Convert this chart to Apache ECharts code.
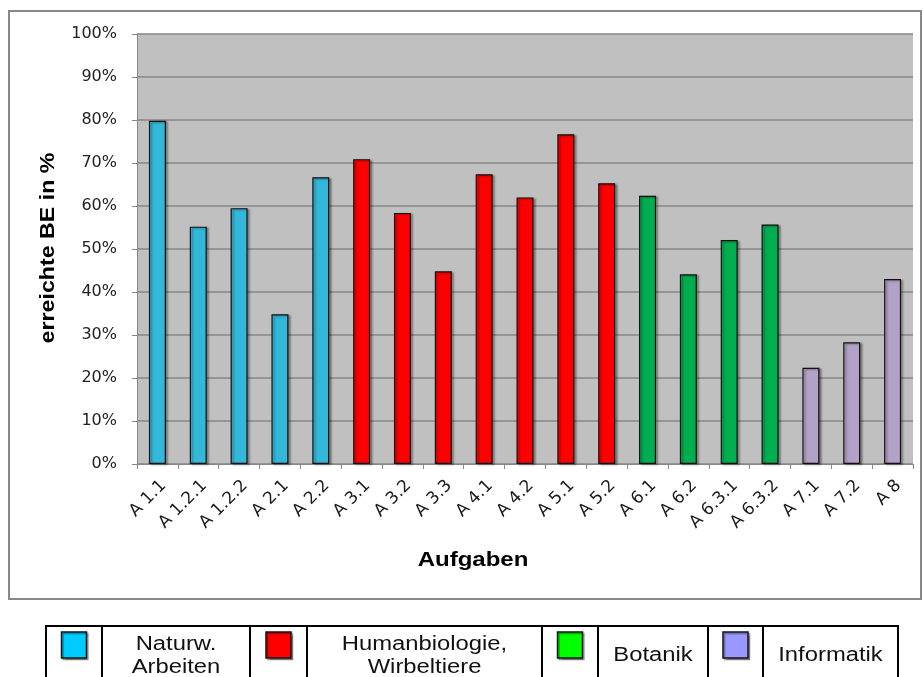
<!DOCTYPE html>
<html>
<head>
<meta charset="utf-8">
<script src="https://cdn.jsdelivr.net/npm/echarts@6/dist/echarts.min.js"></script>
<style>
  html, body { margin: 0; padding: 0; background: #ffffff; }
  #chart { width: 923px; height: 677px; }
</style>
</head>
<body>
<div id="chart"></div>
<script>
// Task categories along the x axis
const categories = ['A 1.1', 'A 1.2.1', 'A 1.2.2', 'A 2.1', 'A 2.2', 'A 3.1', 'A 3.2', 'A 3.3',
  'A 4.1', 'A 4.2', 'A 5.1', 'A 5.2', 'A 6.1', 'A 6.2', 'A 6.3.1', 'A 6.3.2', 'A 7.1', 'A 7.2', 'A 8'];

// Achieved share of points (BE) per task, in percent
const values = [79.8, 55.2, 59.5, 34.8, 66.7, 70.9, 58.4, 44.8, 67.4, 62.0,
  76.7, 65.3, 62.4, 44.1, 52.1, 55.7, 22.4, 28.3, 43.0];

// Subject area of each task (index into the group arrays below)
const groupOf = [0, 0, 0, 0, 0, 1, 1, 1, 1, 1, 1, 1, 2, 2, 2, 2, 3, 3, 3];

// Subject areas, as written in the key table (one entry per line)
const groupNames = [['Naturw.', 'Arbeiten'], ['Humanbiologie,', 'Wirbeltiere'], ['Botanik'], ['Informatik']];

// Bar fill per subject area and the swatch fill used in the key table
const barColors = ['#33B8D9', '#FF0000', '#00AE50', '#B3A2C7'];
const swatchColors = ['#00CCFF', '#FF0000', '#00FF00', '#9999FF'];

// Y axis scale
const yMin = 0, yMax = 100, yStep = 10;

const chart = echarts.init(document.getElementById('chart'), null, { renderer: 'canvas' });

// Key table below the chart: alternating swatch cells and text cells
const colEdges = [46, 102, 250, 307, 542, 598, 708, 763, 898];
const tableTop = 626, tableH = 70;
const legendGraphics = [];
legendGraphics.push({
  type: 'rect', shape: { x: colEdges[0], y: tableTop, width: colEdges[8] - colEdges[0], height: tableH },
  style: { fill: '#ffffff', stroke: '#000000', lineWidth: 2 }, z: 10
});
for (let i = 1; i < colEdges.length - 1; i++) {
  legendGraphics.push({
    type: 'line', shape: { x1: colEdges[i], y1: tableTop, x2: colEdges[i], y2: tableTop + tableH },
    style: { stroke: '#000000', lineWidth: 2 }, z: 11
  });
}
groupNames.forEach((lines, g) => {
  const sx0 = colEdges[g * 2], sx1 = colEdges[g * 2 + 1], tx1 = colEdges[g * 2 + 2];
  const swW = 25, swH = 26;
  legendGraphics.push({
    type: 'rect',
    shape: { x: (sx0 + sx1) / 2 - swW / 2, y: 632, width: swW, height: swH },
    style: { fill: swatchColors[g], stroke: '#111111', lineWidth: 1.5,
      shadowColor: 'rgba(0,0,0,0.35)', shadowOffsetX: 1.5, shadowOffsetY: 1.5, shadowBlur: 1 },
    z: 12
  });
  const cx = (sx1 + tx1) / 2;
  const ys = lines.length === 2 ? [644, 667] : [655];
  lines.forEach((t, k) => {
    legendGraphics.push({
      type: 'text', x: cx, y: ys[k], scaleX: 1.19, scaleY: 1,
      style: { text: t, fill: '#111111', font: '20px "Liberation Sans", Arial, sans-serif',
        textAlign: 'center', textVerticalAlign: 'middle' },
      z: 12
    });
  });
});

chart.setOption({
  animation: false,
  backgroundColor: '#ffffff',
  grid: {
    left: 137, right: 10, top: 34, bottom: 213,
    show: true, backgroundColor: '#C0C0C0', borderWidth: 0
  },
  xAxis: {
    type: 'category',
    data: categories,
    boundaryGap: true,
    axisLine: { show: true, lineStyle: { color: '#888888', width: 1 } },
    axisTick: { show: true, alignWithLabel: false, length: 5, lineStyle: { color: '#888888' } },
    axisLabel: {
      interval: 0, rotate: 45, margin: 13, verticalAlign: 'top',
      fontFamily: '"DejaVu Sans", sans-serif', fontSize: 17, color: '#1a1a1a'
    },
    splitLine: { show: false }
  },
  yAxis: {
    type: 'value',
    min: yMin, max: yMax, interval: yStep,
    axisLine: { show: true, lineStyle: { color: '#888888', width: 1 } },
    axisTick: { show: true, length: 5, lineStyle: { color: '#888888' } },
    axisLabel: {
      formatter: '{value}%', margin: 20,
      fontFamily: '"DejaVu Sans", sans-serif', fontSize: 16, color: '#222222'
    },
    splitLine: { show: true, lineStyle: { color: '#878787', width: 1.5 } }
  },
  series: [{
    type: 'bar',
    barWidth: 17,
    data: values.map((v, i) => ({
      value: v,
      itemStyle: { color: barColors[groupOf[i]] }
    })),
    itemStyle: {
      borderColor: '#111111', borderWidth: 1.2,
      shadowColor: 'rgba(0,0,0,0.35)', shadowOffsetX: 2, shadowOffsetY: 1, shadowBlur: 2
    }
  }],
  graphic: [
    // outer chart frame
    { type: 'rect', shape: { x: 9, y: 11, width: 912, height: 588 },
      style: { fill: 'none', stroke: '#888888', lineWidth: 2 }, z: -1 },
    // y axis title
    { type: 'text', x: 48, y: 248, rotation: Math.PI / 2, scaleX: 1.16,
      style: { text: 'erreichte BE in %', fill: '#000000',
        font: 'bold 20px "Liberation Sans", Arial, sans-serif',
        textAlign: 'center', textVerticalAlign: 'middle' } },
    // x axis title
    { type: 'text', x: 473, y: 560, scaleX: 1.2,
      style: { text: 'Aufgaben', fill: '#000000',
        font: 'bold 20px "Liberation Sans", Arial, sans-serif',
        textAlign: 'center', textVerticalAlign: 'middle' } }
  ].concat(legendGraphics)
});
</script>
</body>
</html>
